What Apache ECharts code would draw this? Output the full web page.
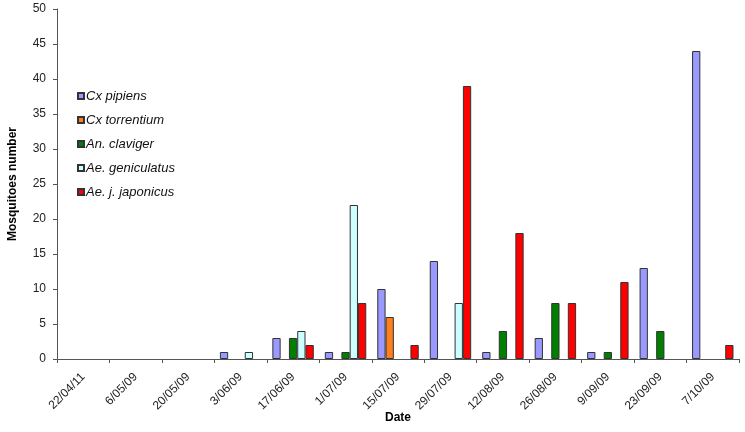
<!DOCTYPE html>
<html>
<head>
<meta charset="utf-8">
<script src="https://cdn.jsdelivr.net/npm/echarts@6/dist/echarts.min.js"></script>
<style>html,body{margin:0;padding:0;background:#fff}#c{width:745px;height:432px}</style>
</head>
<body>
<div id="c"></div>
<script>
const dates = ['22/04/11','6/05/09','20/05/09','3/06/09','17/06/09','1/07/09','15/07/09','29/07/09','12/08/09','26/08/09','9/09/09','23/09/09','7/10/09'];
const cxPipiens      = [null,null,null,1,3,1,10,14,1,3,1,13,44];
const cxTorrentium   = [null,null,null,null,null,null,6,null,null,null,null,null,null];
const anClaviger     = [null,null,null,null,3,1,null,null,4,8,1,4,null];
const aeGeniculatus  = [null,null,null,1,4,22,null,8,null,null,null,null,null];
const aeJJaponicus   = [null,null,null,null,2,8,2,39,18,8,11,null,2];
const seriesNames = ['Cx pipiens','Cx torrentium','An. claviger','Ae. geniculatus','Ae. j. japonicus'];
const seriesData = [cxPipiens, cxTorrentium, anClaviger, aeGeniculatus, aeJJaponicus];
const colors = ['#9999FF','#FF7F1E','#007F00','#CCFFFF','#FF0000'];

const chart = echarts.init(document.getElementById('c'));
chart.setOption({
  animation: false,
  textStyle: {fontFamily: 'Liberation Sans, Arial, sans-serif'},
  grid: {left: 57, right: 6, top: 9, bottom: 73, containLabel: false, outerBoundsMode: 'none'},
  legend: {
    orient: 'vertical', left: 72, top: 84,
    itemWidth: 6, itemHeight: 6, itemGap: 10,
    icon: 'rect',
    textStyle: {fontStyle: 'italic', fontSize: 13, color: '#111', lineHeight: 14, padding: [0,0,0,-3]},
    data: seriesNames
  },
  xAxis: {
    type: 'category', data: dates,
    name: 'Date', nameLocation: 'middle', nameGap: 59, nameMoveOverlap: false,
    nameTextStyle: {fontWeight: 'bold', fontSize: 12, color: '#000', verticalAlign: 'middle'},
    axisLine: {lineStyle: {color: '#555', width: 1}},
    axisTick: {show: true, inside: false, length: 4, lineStyle: {color: '#555'}},
    axisLabel: {rotate: 45, fontSize: 12, color: '#222', margin: 16, interval: 0}
  },
  yAxis: {
    type: 'value', min: 0, max: 50, interval: 5,
    name: 'Mosquitoes number', nameLocation: 'middle', nameGap: 38,
    nameTextStyle: {fontWeight: 'bold', fontSize: 12, color: '#000'},
    axisLine: {show: true, lineStyle: {color: '#555', width: 1}},
    axisTick: {show: true, inside: false, length: 4, lineStyle: {color: '#555'}},
    axisLabel: {fontSize: 12, color: '#222', margin: 11},
    splitLine: {show: false}
  },
  series: seriesNames.map((n, i) => ({
    name: n, type: 'bar', data: seriesData[i],
    barGap: '0%', barCategoryGap: '21%',
    itemStyle: {color: colors[i], borderColor: '#333', borderWidth: 1}
  }))
});
</script>
</body>
</html>
